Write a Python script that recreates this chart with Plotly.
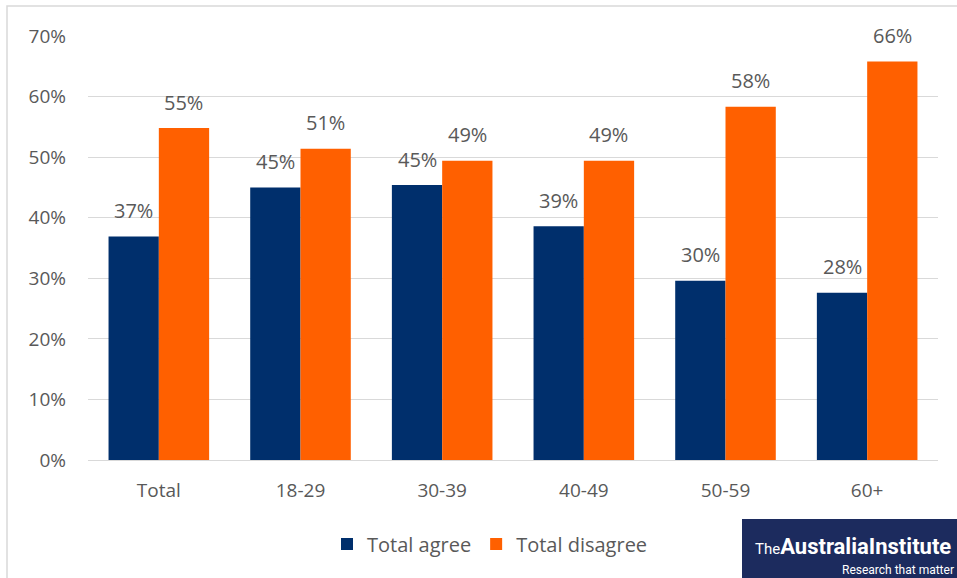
import plotly.graph_objects as go

categories = ["Total", "18-29", "30-39", "40-49", "50-59", "60+"]
agree = [36.9, 45.0, 45.4, 38.6, 29.6, 27.6]
disagree = [54.8, 51.4, 49.4, 49.4, 58.3, 65.8]
y_ticks = [0, 10, 20, 30, 40, 50, 60, 70]

W, H = 957, 578
ML, MR, MT, MB = 88, 19, 36, 118
PW, PH = W - ML - MR, H - MT - MB

def px_x(p):
    return (p - ML) / PW

def px_y(p):
    return (H - MB - p) / PH

FONT = "'Open Sans', sans-serif"
tick_font = dict(family=FONT, size=19, color="#595959")
lab_font = dict(family=FONT, size=20, color="#595959")
leg_font = dict(family=FONT, size=20, color="#595959")

fig = go.Figure()
fig.add_trace(go.Bar(name="Total agree", x=categories, y=agree,
                     marker_color="#002f6c", marker_line_width=0))
fig.add_trace(go.Bar(name="Total disagree", x=categories, y=disagree,
                     marker_color="#ff6000", marker_line_width=0))

# data labels placed above bars via data coordinates
bar_px = PW / len(categories) * (1 - 0.29) / 2
for series, sign in ((agree, -1), (disagree, 1)):
    for c, v in zip(categories, series):
        fig.add_annotation(x=c, y=v, xref="x", yref="y", text=f"{round(v)}%",
                           showarrow=False, xshift=sign * bar_px / 2, yshift=26,
                           yanchor="middle", font=lab_font)

fig.update_layout(
    width=W, height=H,
    margin=dict(l=ML, r=MR, t=MT, b=MB),
    paper_bgcolor="white", plot_bgcolor="white",
    barmode="group", bargap=0.29, bargroupgap=0,
    font=tick_font,
    showlegend=True,
    legend=dict(orientation="h", x=px_x(490), xanchor="center",
                y=px_y(544), yanchor="middle", font=leg_font,
                itemwidth=30, traceorder="normal"),
    xaxis=dict(showgrid=False, showline=False, ticks="", tickfont=tick_font,
               ticklabelstandoff=17),
    yaxis=dict(range=[0, 70], tickvals=y_ticks, ticktext=[f"{v}%" for v in y_ticks],
               showgrid=True, gridcolor="#d9d9d9", gridwidth=1.3, zeroline=True,
               zerolinecolor="#d9d9d9", zerolinewidth=1.3, showline=False,
               ticks="", tickfont=tick_font, ticklabelstandoff=21),
)

# outer border
fig.add_shape(type="rect", xref="paper", yref="paper",
              x0=px_x(7), x1=px_x(W + 5), y0=px_y(H + 5), y1=px_y(6),
              line=dict(color="#d9d9d9", width=1.5), fillcolor="rgba(0,0,0,0)", layer="below")

# logo box
fig.add_shape(type="rect", xref="paper", yref="paper",
              x0=px_x(742), x1=px_x(W + 2), y0=px_y(H + 2), y1=px_y(519),
              line=dict(width=0), fillcolor="#1c2b5e", layer="above")
fig.add_annotation(xref="paper", yref="paper", x=px_x(753), y=px_y(546),
                   xanchor="left", yanchor="middle", showarrow=False,
                   text="<span style='font-size:15px'>The</span><b>AustraliaInstitute</b>",
                   font=dict(family="'Liberation Sans Narrow', 'Roboto', sans-serif", size=22, color="white"))
fig.add_annotation(xref="paper", yref="paper", x=px_x(956), y=px_y(570),
                   xanchor="right", yanchor="middle", showarrow=False,
                   text="Research that matter",
                   font=dict(family="'Liberation Sans Narrow', 'Roboto', sans-serif", size=12, color="white"))

fig.write_html("out.html")
